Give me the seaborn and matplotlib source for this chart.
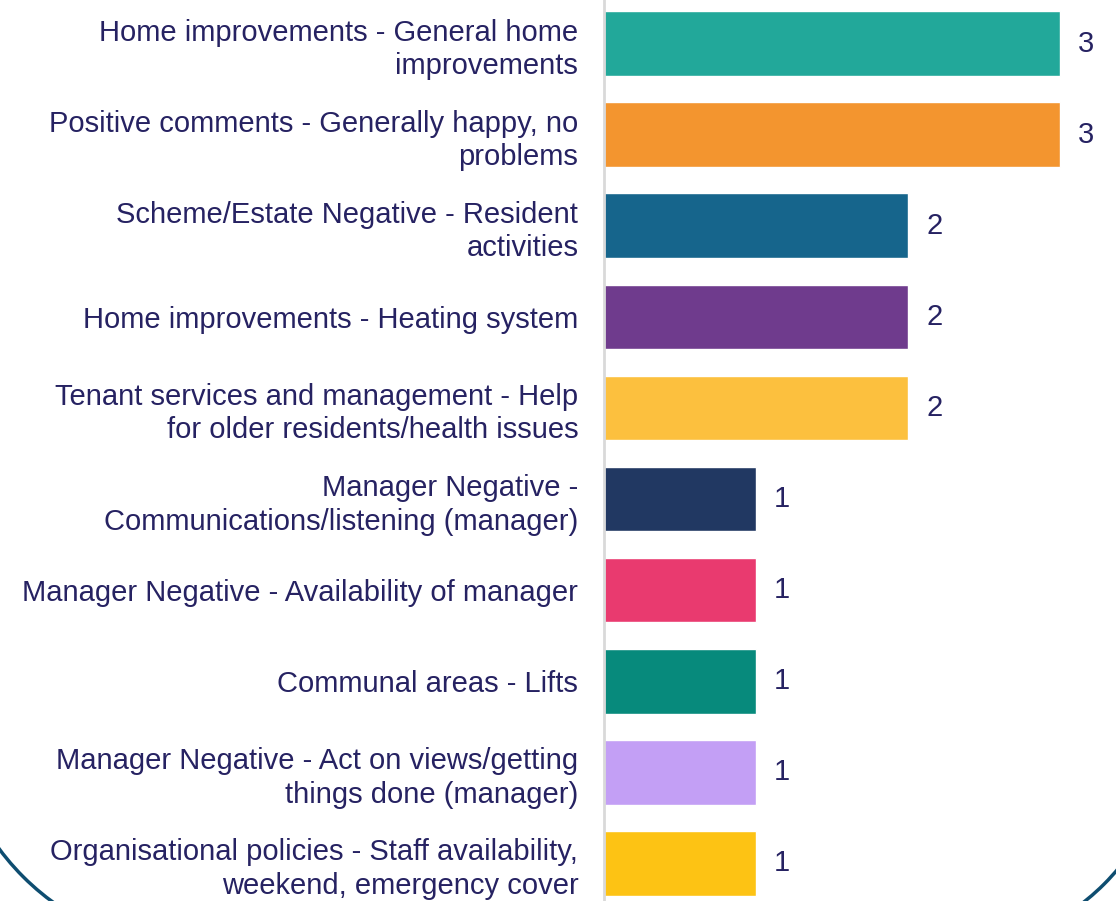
import matplotlib
matplotlib.use("Agg")
import matplotlib.pyplot as plt
from matplotlib.patches import Arc
import pandas as pd
import seaborn as sns

categories = [
    "Home improvements - General home\nimprovements",
    "Positive comments - Generally happy, no\nproblems",
    "Scheme/Estate Negative - Resident\nactivities",
    "Home improvements - Heating system",
    "Tenant services and management - Help\nfor older residents/health issues",
    "Manager Negative -\nCommunications/listening (manager)",
    "Manager Negative - Availability of manager",
    "Communal areas - Lifts",
    "Manager Negative - Act on views/getting\nthings done (manager)",
    "Organisational policies - Staff availability,\nweekend, emergency cover",
]
counts = [3, 3, 2, 2, 2, 1, 1, 1, 1, 1]
bar_colors = [
    "#22a89a", "#f3952f", "#16658c", "#6f3b8d", "#fcc03e",
    "#213862", "#e93a6f", "#078a7c", "#c39ff5", "#fdc314",
]

TEXT = "#262262"
FS = 21

sns.set_theme(style="white")
plt.rcParams["font.family"] = ["Liberation Sans", "DejaVu Sans"]

df = pd.DataFrame({"category": categories, "count": counts})

fig = plt.figure(figsize=(11.16, 9.01), dpi=100)
ax = fig.add_axes([604 / 1116, -8 / 901, 512 / 1116, 911 / 901])

sns.barplot(
    data=df, x="count", y="category", hue="category",
    palette=bar_colors, legend=False, width=0.71, saturation=1, ax=ax,
)

ax.set_xlim(0, 512 / 152)
ax.set_ylim(len(categories) - 0.5, -0.5)
ax.set_xlabel("")
ax.set_ylabel("")
ax.set_xticks([])
ax.tick_params(axis="y", length=0, pad=18.5, labelsize=FS, labelcolor=TEXT)
for lbl in ax.get_yticklabels():
    lbl.set_linespacing(1.25)

for side in ["top", "right", "bottom"]:
    ax.spines[side].set_visible(False)
ax.spines["left"].set_color("#d9d9d9")
ax.spines["left"].set_linewidth(2)

for i, v in enumerate(counts):
    ax.text(v + 18 / 152, i, str(v), va="center", ha="left", fontsize=FS, color=TEXT)

# decorative frame corners (pixel centre/radius, y from top)
for cx, cy, r, t1, t2 in [(200, 700, 250, 180, 270), (945, 725, 225, 270, 360)]:
    arc = Arc((cx / 1116, 1 - cy / 901), 2 * r / 1116, 2 * r / 901,
              theta1=t1, theta2=t2, transform=fig.transFigure,
              color="#0e4d70", lw=2.5, clip_on=False)
    fig.add_artist(arc)

fig.savefig("out.png", dpi=100)
